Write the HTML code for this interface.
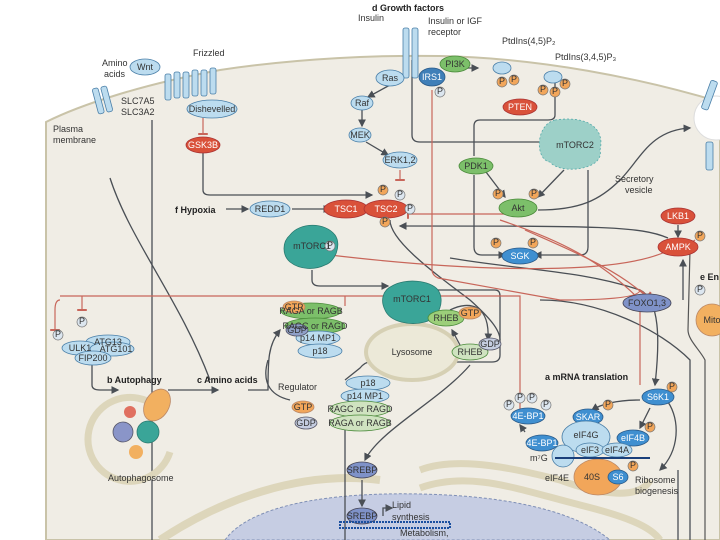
<!DOCTYPE html>
<html><head><meta charset="utf-8"><style>
html,body{margin:0;padding:0;background:#fff;}
svg{display:block;font-family:"Liberation Sans",sans-serif;}
text{font-size:9px;fill:#333;}
.w{fill:#fff}
.b{font-weight:bold;fill:#222}
</style></head><body>
<svg width="720" height="540" viewBox="0 0 720 540">
<defs>
<marker id="a" markerWidth="6" markerHeight="6" refX="5" refY="3" orient="auto"><path d="M0,0L6,3L0,6z" fill="#4a4f55"/></marker>
<marker id="t" markerWidth="2" markerHeight="8" refX="1" refY="4" orient="auto"><rect width="2" height="8" fill="#c8665a"/></marker>
</defs>
<path d="M46,122 C80,105 140,85 220,70 C300,58 380,55 440,56 C540,58 640,78 720,102 L720,540 L46,540 Z" fill="#f0ede5" stroke="#c9c3a8" stroke-width="2"/>
<path d="M690,250 L688,330 C688,340 700,350 705,360 L705,540" fill="none" stroke="#555" stroke-width="1.2"/>
<circle cx="716" cy="118" r="22" fill="#fff" stroke="#ddd"/>
<path d="M160,540 C220,500 300,470 380,480" fill="none" stroke="#ddd6bb" stroke-width="8"/>
<path d="M420,470 C460,455 520,470 560,480 C600,495 640,500 650,480" fill="none" stroke="#ddd6bb" stroke-width="7"/>
<path d="M420,488 C470,470 520,490 580,505 C620,515 650,525 660,540" fill="none" stroke="#ddd6bb" stroke-width="7"/>
<path d="M225,540 C250,505 330,492 420,494 C520,496 580,515 610,540 Z" fill="#c6cde3" stroke="#7f8fb5" stroke-dasharray="3,2"/>
<g fill="none" stroke="#4a4f55" stroke-width="1.3">
<path d="M152,120 V540"/>
<path d="M203,153 V190 Q203,195 210,195 H372" marker-end="url(#a)"/>
<path d="M226,209 H248" marker-end="url(#a)"/><path d="M292,209 H330" marker-end="url(#a)"/>
<path d="M412,60 V135 Q412,142 420,142 H560" marker-end="url(#a)"/>
<path d="M447,68 H478" marker-end="url(#a)"/>
<path d="M555,80 V115 Q555,120 548,120 H480 Q474,120 474,126 V156"/>
<path d="M474,175 V247 Q474,255 482,255 H505" marker-end="url(#a)"/>
<path d="M486,172 L505,197" marker-end="url(#a)"/>
<path d="M564,170 L538,197" marker-end="url(#a)"/>
<path d="M588,170 V247 Q588,255 580,255 H535" marker-end="url(#a)"/>
<path d="M538,210 C580,210 600,200 620,180 C640,160 650,130 690,128" marker-end="url(#a)"/>
<path d="M668,238 C640,226 600,226 400,226" marker-end="url(#a)"/>
<path d="M678,225 V237" marker-end="url(#a)"/>
<path d="M390,220 C390,240 430,270 470,300 C490,318 500,330 500,340"/>
<path d="M390,85 L368,97" marker-end="url(#a)"/><path d="M362,110 V126" marker-end="url(#a)"/><path d="M366,142 L388,155" marker-end="url(#a)"/>
<path d="M312,270 V280 Q312,286 320,286 H388" marker-end="url(#a)"/>
<path d="M110,178 C130,240 180,300 210,380" />
<path d="M92,360 V385 Q92,390 100,390 H118" marker-end="url(#a)"/>
<path d="M168,390 H218" marker-end="url(#a)"/>
<path d="M248,390 H268 C268,360 268,345 280,330" marker-end="url(#a)"/>
<path d="M290,400 C268,395 262,380 268,360"/>
<path d="M450,310 C470,300 490,305 488,340" marker-end="url(#a)"/>
<path d="M460,345 L452,330" marker-end="url(#a)"/>
<path d="M470,365 C440,400 380,430 365,460" marker-end="url(#a)"/>
<path d="M420,290 H495 Q500,290 500,296 V355 Q500,362 492,362 H370 Q365,362 360,368 L345,380"/>
<path d="M345,430 V540"/>
<path d="M362,480 V506" marker-end="url(#a)"/>
<path d="M383,516 V508 H392" marker-end="url(#a)"/>
<path d="M450,258 C520,270 580,270 640,290 C660,300 660,340 655,385" marker-end="url(#a)"/>
<path d="M640,400 C615,400 600,405 592,410" marker-end="url(#a)"/>
<path d="M650,408 L640,428" marker-end="url(#a)"/>
<path d="M668,402 C680,420 680,450 660,470" marker-end="url(#a)"/>
<path d="M525,432 L520,425" marker-end="url(#a)"/>
<path d="M678,470 V540"/><path d="M683,300 V260" marker-end="url(#a)"/>
<path d="M540,300 C600,300 660,330 690,360 V540"/>
</g>
<g fill="none" stroke="#c8665a" stroke-width="1.2">
<path d="M203,118 V134" marker-end="url(#t)"/>
<path d="M400,170 V180" marker-end="url(#t)"/>
<path d="M432,90 V270 Q432,275 438,278 L560,300 Q640,300 640,290 L648,296" marker-end="url(#t)"/>
<path d="M505,214 H408" marker-end="url(#t)"/>
<path d="M500,220 C560,240 600,260 640,300 V385"/>
<path d="M525,230 C570,250 620,270 650,300"/>
<path d="M665,252 C620,272 500,275 330,255" marker-end="url(#t)"/>
<path d="M60,300 Q55,300 55,310 V330" marker-end="url(#t)"/>
<path d="M60,296 H520 V420" marker-end="url(#t)"/>
<path d="M82,296 V310" marker-end="url(#t)"/>
<path d="M345,296 V306"/>
<path d="M695,240 L688,245" marker-end="url(#t)"/>
</g>
<g fill="#bcdcef" stroke="#4a7fa8" stroke-width="0.8">
<rect x="403" y="28" width="6" height="50" rx="2"/><rect x="412" y="28" width="6" height="50" rx="2"/>
<rect x="95" y="88" width="6" height="26" rx="2" transform="rotate(-15 98 100)"/><rect x="104" y="86" width="6" height="26" rx="2" transform="rotate(-15 107 100)"/>
<rect x="165" y="74" width="6" height="26" rx="2"/><rect x="174" y="72" width="6" height="26" rx="2"/><rect x="183" y="72" width="6" height="26" rx="2"/><rect x="192" y="70" width="6" height="26" rx="2"/><rect x="201" y="70" width="6" height="26" rx="2"/><rect x="210" y="68" width="6" height="26" rx="2"/>
<rect x="706" y="80" width="7" height="30" rx="2" transform="rotate(20 709 95)"/><rect x="706" y="142" width="7" height="28" rx="2"/>
</g>
<g stroke-width="0.8">
<ellipse cx="145" cy="67" rx="15" ry="8" fill="#bcdcef" stroke="#4a7fa8"/>
<ellipse cx="212" cy="109" rx="25" ry="9" fill="#bcdcef" stroke="#4a7fa8"/>
<ellipse cx="203" cy="145" rx="17" ry="8" fill="#d9513a" stroke="#a33"/>
<ellipse cx="390" cy="78" rx="14" ry="8" fill="#bcdcef" stroke="#4a7fa8"/>
<ellipse cx="432" cy="77" rx="13" ry="9" fill="#3f7fb8" stroke="#2a5a88"/>
<ellipse cx="455" cy="64" rx="15" ry="8" fill="#7cbf6a" stroke="#4a8a3a"/>
<ellipse cx="362" cy="103" rx="11" ry="7" fill="#bcdcef" stroke="#4a7fa8"/>
<ellipse cx="360" cy="135" rx="11" ry="7" fill="#bcdcef" stroke="#4a7fa8"/>
<ellipse cx="400" cy="160" rx="17" ry="8" fill="#bcdcef" stroke="#4a7fa8"/>
<ellipse cx="502" cy="68" rx="9" ry="6" fill="#bcdcef" stroke="#4a7fa8"/>
<ellipse cx="553" cy="77" rx="9" ry="6" fill="#bcdcef" stroke="#4a7fa8"/>
<ellipse cx="520" cy="107" rx="17" ry="8" fill="#d9513a" stroke="#a33"/>
<path d="M555,120 C590,115 605,130 600,150 C605,170 560,175 550,162 C535,160 535,125 555,120Z" fill="#9dd0c8" stroke="#5aa" stroke-dasharray="2,2"/>
<ellipse cx="476" cy="166" rx="17" ry="8" fill="#7cbf6a" stroke="#4a8a3a"/>
<ellipse cx="518" cy="208" rx="19" ry="9" fill="#7cbf6a" stroke="#4a8a3a"/>
<ellipse cx="520" cy="256" rx="18" ry="8" fill="#3f8fd0" stroke="#2a5a88"/>
<ellipse cx="678" cy="216" rx="17" ry="8" fill="#d9513a" stroke="#a33"/>
<ellipse cx="678" cy="247" rx="20" ry="9" fill="#d9513a" stroke="#a33"/>
<ellipse cx="270" cy="209" rx="20" ry="8" fill="#bcdcef" stroke="#4a7fa8"/>
<ellipse cx="346" cy="209" rx="22" ry="9" fill="#d9513a" stroke="#a33"/>
<ellipse cx="386" cy="209" rx="22" ry="9" fill="#d9513a" stroke="#a33"/>
<path d="M290,235 C300,222 325,222 335,235 C342,245 335,262 325,265 C315,270 300,270 290,262 C282,255 282,242 290,235Z" fill="#3aa598" stroke="#2a7a70"/>
<ellipse cx="412" cy="352" rx="46" ry="28" fill="#ece9d8" stroke="#d6d0b4" stroke-width="4"/>
<path d="M392,286 C405,278 430,280 438,290 C445,300 440,318 425,322 C410,326 390,322 385,310 C380,300 383,290 392,286Z" fill="#3aa598" stroke="#2a7a70"/>
<ellipse cx="311" cy="311" rx="30" ry="8" fill="#7cbf6a" stroke="#4a8a3a"/>
<ellipse cx="315" cy="326" rx="30" ry="8" fill="#7cbf6a" stroke="#4a8a3a"/>
<ellipse cx="318" cy="338" rx="22" ry="7" fill="#bcdcef" stroke="#4a7fa8"/>
<ellipse cx="320" cy="351" rx="22" ry="7" fill="#bcdcef" stroke="#4a7fa8"/>
<ellipse cx="294" cy="307" rx="11" ry="6" fill="#f2a65a" stroke="#b86"/>
<ellipse cx="297" cy="330" rx="11" ry="6" fill="#8fa0c8" stroke="#556"/>
<ellipse cx="446" cy="318" rx="18" ry="8" fill="#9ccf7a" stroke="#4a8a3a"/>
<ellipse cx="470" cy="313" rx="11" ry="6" fill="#f2a65a" stroke="#b86"/>
<ellipse cx="470" cy="352" rx="18" ry="8" fill="#cfe3c0" stroke="#4a8a3a"/>
<ellipse cx="490" cy="344" rx="11" ry="6" fill="#c5cde0" stroke="#556"/>
<ellipse cx="368" cy="383" rx="22" ry="7" fill="#bcdcef" stroke="#4a7fa8"/>
<ellipse cx="365" cy="396" rx="24" ry="7" fill="#bcdcef" stroke="#4a7fa8"/>
<ellipse cx="360" cy="409" rx="30" ry="8" fill="#cfe3c0" stroke="#4a8a3a"/>
<ellipse cx="360" cy="423" rx="30" ry="8" fill="#cfe3c0" stroke="#4a8a3a"/>
<ellipse cx="303" cy="407" rx="11" ry="6" fill="#f2a65a" stroke="#b86"/>
<ellipse cx="306" cy="423" rx="11" ry="6" fill="#c5cde0" stroke="#556"/>
<ellipse cx="108" cy="342" rx="22" ry="7" fill="#bcdcef" stroke="#4a7fa8"/>
<ellipse cx="80" cy="348" rx="18" ry="7" fill="#bcdcef" stroke="#4a7fa8"/>
<ellipse cx="112" cy="349" rx="22" ry="7" fill="#bcdcef" stroke="#4a7fa8"/>
<ellipse cx="93" cy="358" rx="18" ry="7" fill="#bcdcef" stroke="#4a7fa8"/>
<path d="M160,410 A42,42 0 1,0 170,452" fill="none" stroke="#ddd6bb" stroke-width="7"/>
<circle cx="123" cy="432" r="10" fill="#8a95c8" stroke="#556"/>
<circle cx="148" cy="432" r="11" fill="#3aa598" stroke="#2a7a70"/>
<circle cx="130" cy="412" r="6" fill="#e07060"/>
<circle cx="136" cy="452" r="7" fill="#f2b060"/>
<ellipse cx="157" cy="405" rx="12" ry="17" fill="#f2b060" stroke="#b86" transform="rotate(30 157 405)"/>
<ellipse cx="647" cy="303" rx="24" ry="9" fill="#7f92c8" stroke="#445"/>
<ellipse cx="658" cy="397" rx="16" ry="8" fill="#3f8fd0" stroke="#2a5a88"/>
<ellipse cx="528" cy="416" rx="17" ry="8" fill="#3f8fd0" stroke="#2a5a88"/>
<ellipse cx="588" cy="417" rx="15" ry="8" fill="#3f8fd0" stroke="#2a5a88"/>
<ellipse cx="598" cy="477" rx="24" ry="18" fill="#f2a65a" stroke="#b86"/>
<ellipse cx="586" cy="437" rx="24" ry="16" fill="#bcdcef" stroke="#4a7fa8"/>
<ellipse cx="633" cy="438" rx="16" ry="8" fill="#3f8fd0" stroke="#2a5a88"/>
<ellipse cx="590" cy="450" rx="14" ry="7" fill="#bcdcef" stroke="#4a7fa8"/>
<ellipse cx="617" cy="450" rx="15" ry="7" fill="#bcdcef" stroke="#4a7fa8"/>
<ellipse cx="542" cy="443" rx="16" ry="8" fill="#3f8fd0" stroke="#2a5a88"/>
<circle cx="563" cy="456" r="11" fill="#bcdcef" stroke="#4a7fa8"/>
<ellipse cx="618" cy="477" rx="10" ry="7" fill="#3f8fd0" stroke="#2a5a88"/>
<ellipse cx="362" cy="470" rx="15" ry="8" fill="#7f92c8" stroke="#445"/>
<ellipse cx="362" cy="516" rx="15" ry="8" fill="#7f92c8" stroke="#445"/>
<circle cx="712" cy="320" r="16" fill="#f2b060" stroke="#b86"/>
</g>
<line x1="555" y1="458" x2="650" y2="458" stroke="#1a3f7a" stroke-width="2"/>
<rect x="340" y="522" width="110" height="6" fill="none" stroke="#1a4fa0" stroke-width="2" stroke-dasharray="2,1"/>
<g stroke="#777" stroke-width="0.7" font-size="7">
<g fill="#f2a65a"><circle cx="383" cy="190" r="5"/><circle cx="385" cy="222" r="5"/><circle cx="498" cy="194" r="5"/><circle cx="534" cy="194" r="5"/><circle cx="496" cy="243" r="5"/><circle cx="533" cy="243" r="5"/><circle cx="502" cy="82" r="5"/><circle cx="514" cy="80" r="5"/><circle cx="543" cy="90" r="5"/><circle cx="555" cy="92" r="5"/><circle cx="565" cy="84" r="5"/><circle cx="700" cy="236" r="5"/><circle cx="672" cy="387" r="5"/><circle cx="608" cy="405" r="5"/><circle cx="650" cy="427" r="5"/><circle cx="633" cy="466" r="5"/></g>
<g fill="#dce6ef"><circle cx="440" cy="92" r="5"/><circle cx="400" cy="195" r="5"/><circle cx="410" cy="209" r="5"/><circle cx="330" cy="246" r="5"/><circle cx="700" cy="290" r="5"/><circle cx="509" cy="405" r="5"/><circle cx="520" cy="398" r="5"/><circle cx="532" cy="398" r="5"/><circle cx="546" cy="405" r="5"/><circle cx="58" cy="335" r="5"/><circle cx="82" cy="322" r="5"/></g>
</g>
<g font-size="6" text-anchor="middle" fill="#333">
<text x="383" y="192">P</text><text x="385" y="224">P</text><text x="498" y="196">P</text><text x="534" y="196">P</text><text x="496" y="245">P</text><text x="533" y="245">P</text><text x="502" y="84">P</text><text x="514" y="82">P</text><text x="543" y="92">P</text><text x="555" y="94">P</text><text x="565" y="86">P</text><text x="700" y="238">P</text><text x="672" y="389">P</text><text x="608" y="407">P</text><text x="650" y="429">P</text><text x="633" y="468">P</text>
<text x="440" y="94">P</text><text x="400" y="197">P</text><text x="410" y="211">P</text><text x="330" y="248">P</text><text x="700" y="292">P</text><text x="509" y="407">P</text><text x="520" y="400">P</text><text x="532" y="400">P</text><text x="546" y="407">P</text><text x="58" y="337">P</text><text x="82" y="324">P</text>
</g>
<g text-anchor="middle" font-size="8">
<text x="145" y="70">Wnt</text><text x="212" y="112">Dishevelled</text><text x="203" y="148" class="w">GSK3B</text>
<text x="390" y="81">Ras</text><text x="432" y="80" class="w">IRS1</text><text x="455" y="67">PI3K</text>
<text x="362" y="106">Raf</text><text x="360" y="138">MEK</text><text x="400" y="163">ERK1,2</text>
<text x="520" y="110" class="w">PTEN</text><text x="575" y="148">mTORC2</text>
<text x="476" y="169">PDK1</text><text x="518" y="211">Akt</text><text x="520" y="259" class="w">SGK</text>
<text x="678" y="219" class="w">LKB1</text><text x="678" y="250" class="w">AMPK</text>
<text x="270" y="212">REDD1</text><text x="346" y="212" class="w">TSC1</text><text x="386" y="212" class="w">TSC2</text>
<text x="312" y="249">mTORC1</text><text x="412" y="302">mTORC1</text><text x="412" y="355">Lysosome</text>
<text x="311" y="314" font-size="7">RAGA or RAGB</text><text x="315" y="329" font-size="7">RAGC or RAGD</text>
<text x="318" y="341" font-size="7">p14 MP1</text><text x="320" y="354" font-size="7">p18</text>
<text x="294" y="310" font-size="7">GTP</text><text x="297" y="333" font-size="7">GDP</text>
<text x="446" y="321" font-size="7">RHEB</text><text x="470" y="316" font-size="7">GTP</text><text x="470" y="355" font-size="7">RHEB</text><text x="490" y="347" font-size="7">GDP</text>
<text x="368" y="386" font-size="7">p18</text><text x="365" y="399" font-size="7">p14 MP1</text>
<text x="360" y="412" font-size="7">RAGC or RAGD</text><text x="360" y="426" font-size="7">RAGA or RAGB</text>
<text x="303" y="410" font-size="7">GTP</text><text x="306" y="426" font-size="7">GDP</text>
<text x="108" y="345" font-size="7">ATG13</text><text x="80" y="351" font-size="7">ULK1</text><text x="116" y="352" font-size="7">ATG101</text><text x="93" y="361" font-size="7">FIP200</text>
<text x="647" y="306" font-size="7">FOXO1,3</text><text x="658" y="400" class="w" font-size="7">S6K1</text>
<text x="528" y="419" class="w" font-size="7">4E-BP1</text><text x="588" y="420" class="w" font-size="7">SKAR</text>
<text x="586" y="438" font-size="7">eIF4G</text><text x="633" y="441" class="w" font-size="7">eIF4B</text>
<text x="590" y="453" font-size="7">eIF3</text><text x="617" y="453" font-size="7">eIF4A</text><text x="542" y="446" class="w" font-size="7">4E-BP1</text>
<text x="592" y="480" font-size="7">40S</text><text x="618" y="480" class="w" font-size="7">S6</text>
<text x="362" y="473" font-size="7">SREBP</text><text x="362" y="519" font-size="7">SREBP</text>
<text x="712" y="323" font-size="7">Mito</text>
</g>
<g font-size="8">
<text x="372" y="11" class="b" font-size="9">d Growth factors</text>
<text x="358" y="21" fill="#c8843a" font-size="8">Insulin</text>
<text x="428" y="24">Insulin or IGF</text><text x="428" y="35">receptor</text>
<text x="502" y="44">PtdIns(4,5)P₂</text><text x="555" y="60">PtdIns(3,4,5)P₃</text>
<text x="193" y="56">Frizzled</text>
<text x="102" y="66">Amino</text><text x="104" y="77">acids</text>
<text x="121" y="104">SLC7A5</text><text x="121" y="115">SLC3A2</text>
<text x="53" y="132">Plasma</text><text x="53" y="143">membrane</text>
<text x="175" y="213" class="b">f Hypoxia</text>
<text x="107" y="383" class="b">b Autophagy</text>
<text x="197" y="383" class="b">c Amino acids</text>
<text x="278" y="390">Regulator</text>
<text x="108" y="481">Autophagosome</text>
<text x="545" y="380" class="b">a mRNA translation</text>
<text x="530" y="461" font-size="7">m⁷G</text><text x="545" y="481">eIF4E</text>
<text x="635" y="483">Ribosome</text><text x="635" y="494">biogenesis</text>
<text x="615" y="182">Secretory</text><text x="625" y="193">vesicle</text>
<text x="392" y="508">Lipid</text><text x="392" y="520">synthesis</text>
<text x="400" y="536">Metabolism,</text>
<text x="700" y="280" class="b">e En</text>
</g>
</svg>
</body></html>
